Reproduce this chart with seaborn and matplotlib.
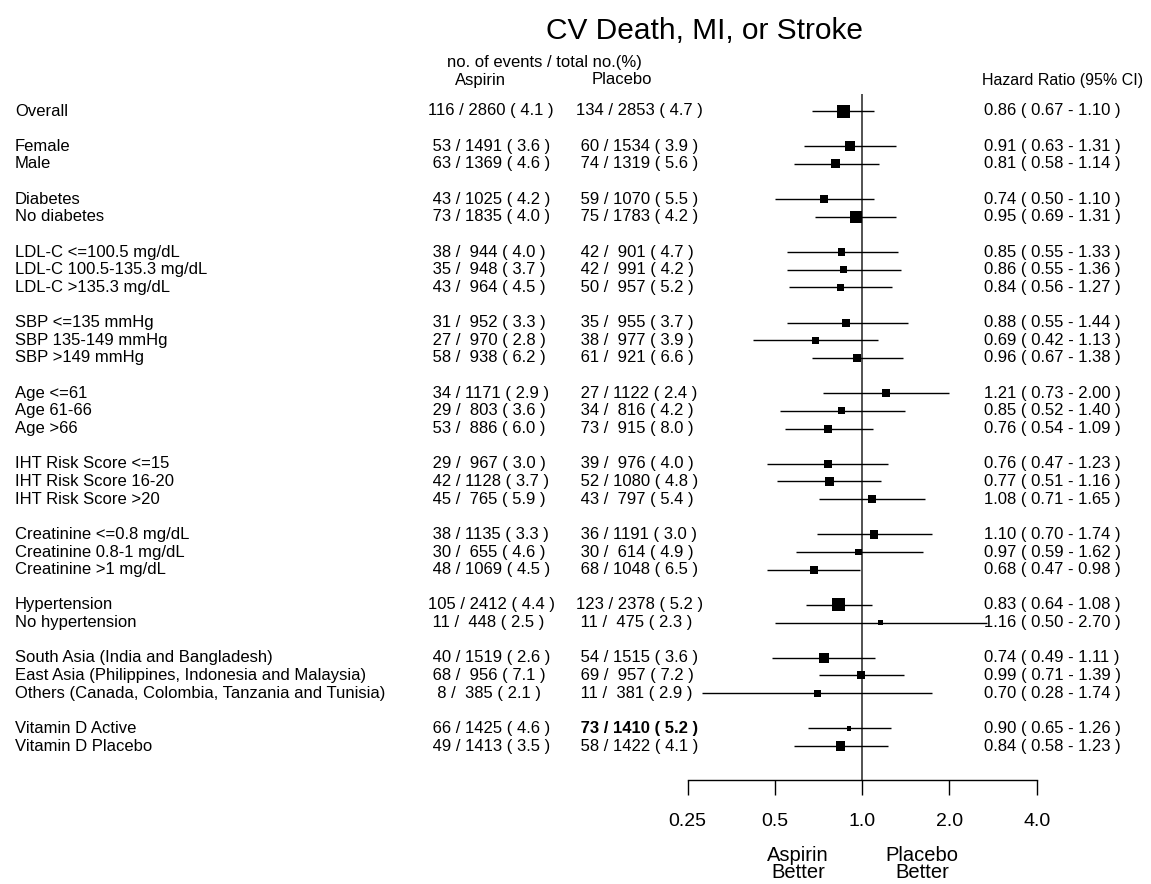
import numpy as np
import matplotlib
matplotlib.use("Agg")
import matplotlib.pyplot as plt
import matplotlib.transforms as mtransforms
import seaborn as sns

# ---------------- data ----------------
labels = ["Overall", "Female", "Male", "Diabetes", "No diabetes",
          "LDL-C <=100.5 mg/dL", "LDL-C 100.5-135.3 mg/dL", "LDL-C >135.3 mg/dL",
          "SBP <=135 mmHg", "SBP 135-149 mmHg", "SBP >149 mmHg",
          "Age <=61", "Age 61-66", "Age >66",
          "IHT Risk Score <=15", "IHT Risk Score 16-20", "IHT Risk Score >20",
          "Creatinine <=0.8 mg/dL", "Creatinine 0.8-1 mg/dL", "Creatinine >1 mg/dL",
          "Hypertension", "No hypertension",
          "South Asia (India and Bangladesh)",
          "East Asia (Philippines, Indonesia and Malaysia)",
          "Others (Canada, Colombia, Tanzania and Tunisia)",
          "Vitamin D Active", "Vitamin D Placebo"]
rows = [0, 2, 3, 5, 6, 8, 9, 10, 12, 13, 14, 16, 17, 18, 20, 21, 22,
        24, 25, 26, 28, 29, 31, 32, 33, 35, 36]

asp_events = [116, 53, 63, 43, 73, 38, 35, 43, 31, 27, 58, 34, 29, 53, 29, 42, 45,
              38, 30, 48, 105, 11, 40, 68, 8, 66, 49]
asp_total = [2860, 1491, 1369, 1025, 1835, 944, 948, 964, 952, 970, 938, 1171, 803, 886,
             967, 1128, 765, 1135, 655, 1069, 2412, 448, 1519, 956, 385, 1425, 1413]
asp_pct = [4.1, 3.6, 4.6, 4.2, 4.0, 4.0, 3.7, 4.5, 3.3, 2.8, 6.2, 2.9, 3.6, 6.0, 3.0, 3.7,
           5.9, 3.3, 4.6, 4.5, 4.4, 2.5, 2.6, 7.1, 2.1, 4.6, 3.5]
pla_events = [134, 60, 74, 59, 75, 42, 42, 50, 35, 38, 61, 27, 34, 73, 39, 52, 43,
              36, 30, 68, 123, 11, 54, 69, 11, 73, 58]
pla_total = [2853, 1534, 1319, 1070, 1783, 901, 991, 957, 955, 977, 921, 1122, 816, 915,
             976, 1080, 797, 1191, 614, 1048, 2378, 475, 1515, 957, 381, 1410, 1422]
pla_pct = [4.7, 3.9, 5.6, 5.5, 4.2, 4.7, 4.2, 5.2, 3.7, 3.9, 6.6, 2.4, 4.2, 8.0, 4.0, 4.8,
           5.4, 3.0, 4.9, 6.5, 5.2, 2.3, 3.6, 7.2, 2.9, 5.2, 4.1]
hr = [0.86, 0.91, 0.81, 0.74, 0.95, 0.85, 0.86, 0.84, 0.88, 0.69, 0.96, 1.21, 0.85, 0.76,
      0.76, 0.77, 1.08, 1.10, 0.97, 0.68, 0.83, 1.16, 0.74, 0.99, 0.70, 0.90, 0.84]
ci_lo = [0.67, 0.63, 0.58, 0.50, 0.69, 0.55, 0.55, 0.56, 0.55, 0.42, 0.67, 0.73, 0.52, 0.54,
         0.47, 0.51, 0.71, 0.70, 0.59, 0.47, 0.64, 0.50, 0.49, 0.71, 0.28, 0.65, 0.58]
ci_hi = [1.10, 1.31, 1.14, 1.10, 1.31, 1.33, 1.36, 1.27, 1.44, 1.13, 1.38, 2.00, 1.40, 1.09,
         1.23, 1.16, 1.65, 1.74, 1.62, 0.98, 1.08, 2.70, 1.11, 1.39, 1.74, 1.26, 1.23]
box_weight = [13, 10, 9, 8, 12, 7.5, 7, 7, 8, 7, 8, 8.5, 7, 8, 8, 9, 8, 8.5, 6.5, 8,
              13, 5, 10, 8, 7, 4.5, 9.5]
bold_placebo_row = "Vitamin D Active"

xticks = [0.25, 0.5, 1.0, 2.0, 4.0]
xtick_labels = ["0.25", "0.5", "1.0", "2.0", "4.0"]

# ---------------- figure ----------------
sns.set_theme(style="white")
plt.rcParams['font.family'] = ['Liberation Sans', 'DejaVu Sans']
plt.rcParams['text.color'] = 'black'
plt.rcParams['xtick.color'] = 'black'
plt.rcParams['xtick.labelcolor'] = 'black'
plt.rcParams['axes.edgecolor'] = 'black'

W, H = 1151, 884
fig = plt.figure(figsize=(W / 100, H / 100), dpi=100)

def fx(px):
    return px / W

def fy(py):
    return 1 - py / H

ax_top, ax_bot = 94, 780
ax_left, ax_right = 687.7, 1036.7
ax = fig.add_axes([fx(ax_left), fy(ax_bot), fx(ax_right) - fx(ax_left), (ax_bot - ax_top) / H])
ax.set_xscale("log", base=2)
ax.set_xlim(0.25, 4.0)
row_px = 17.64
y_top = (ax_top - 111) / row_px
y_bot = (ax_bot - 111) / row_px
ax.set_ylim(y_bot, y_top)
ax.set_facecolor("none")

for s in ["top", "left", "right"]:
    ax.spines[s].set_visible(False)
ax.spines["bottom"].set_color("black")
ax.spines["bottom"].set_linewidth(1.0)
ax.set_yticks([])
ax.set_xticks(xticks)
ax.set_xticklabels(xtick_labels)
ax.xaxis.set_minor_locator(matplotlib.ticker.NullLocator())
ax.tick_params(axis="x", which="major", direction="out", length=10.8, width=1.0,
               color="black", labelcolor="black", labelsize=14, pad=13, bottom=True)
ax.grid(False)

# reference line
ax.axvline(1.0, color="#444444", lw=1.3, zorder=1)

# CI lines
ax.hlines(rows, ci_lo, ci_hi, color="black", lw=1.0, zorder=2, clip_on=False)

# boxes
sizes = [(b * 0.72) ** 2 for b in box_weight]
sns.scatterplot(x=hr, y=rows, marker="s", s=sizes, color="black", edgecolor="none",
                linewidth=0, ax=ax, zorder=3, legend=False, clip_on=False)
ax.set_xlabel("")
ax.set_ylabel("")

# text columns
trans = mtransforms.blended_transform_factory(fig.transFigure, ax.transData)
fs = 12
for i, r in enumerate(rows):
    ax.text(fx(15), r, labels[i], transform=trans, ha="left", va="center", fontsize=fs)
    a_str = f"{asp_events[i]:3d} / {asp_total[i]:4d} ( {asp_pct[i]:.1f} )"
    p_str = f"{pla_events[i]:3d} / {pla_total[i]:4d} ( {pla_pct[i]:.1f} )"
    ax.text(fx(428), r, a_str, transform=trans, ha="left", va="center", fontsize=fs)
    ax.text(fx(575.5), r, p_str, transform=trans, ha="left", va="center", fontsize=fs,
            fontweight="bold" if labels[i] == bold_placebo_row else "normal")
    h_str = f"{hr[i]:.2f} ( {ci_lo[i]:.2f} - {ci_hi[i]:.2f} )"
    ax.text(fx(984), r, h_str, transform=trans, ha="left", va="center", fontsize=fs)

# headers
fig.text(fx(705), fy(31), "CV Death, MI, or Stroke", ha="center", va="center", fontsize=21.5)
fig.text(fx(544), fy(63), "no. of events / total no.(%)", ha="center", va="center", fontsize=12)
fig.text(fx(480), fy(80), "Aspirin", ha="center", va="center", fontsize=12)
fig.text(fx(622), fy(80), "Placebo", ha="center", va="center", fontsize=12)
fig.text(fx(1143), fy(80), "Hazard Ratio (95% CI)", ha="right", va="center", fontsize=11.5)

# favours labels
fig.text(fx(798), fy(864), "Aspirin\nBetter", ha="center", va="center", fontsize=14.5,
         linespacing=0.9)
fig.text(fx(922), fy(864), "Placebo\nBetter", ha="center", va="center", fontsize=14.5,
         linespacing=0.9)

fig.savefig("out.png", dpi=100, facecolor="white")
